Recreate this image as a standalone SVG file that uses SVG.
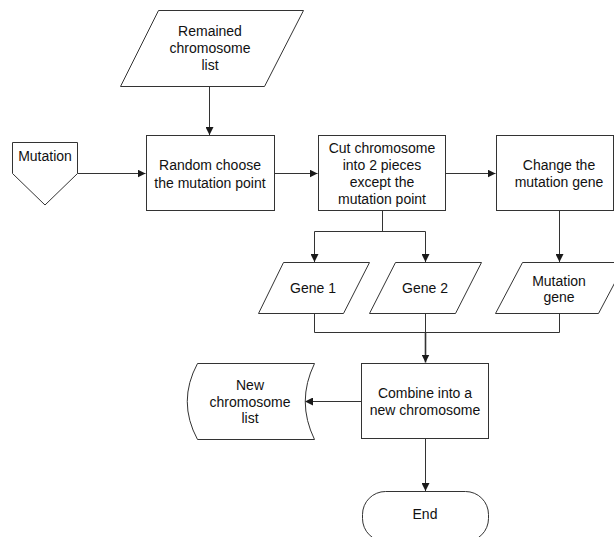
<svg xmlns="http://www.w3.org/2000/svg" width="614" height="537" viewBox="0 0 614 537">
  <defs>
    <marker id="arrow" viewBox="0 0 10 10" refX="10" refY="5" markerWidth="8" markerHeight="8" markerUnits="userSpaceOnUse" orient="auto">
      <path d="M0,0 L10,5 L0,10 Z" fill="#1a1a1a"/>
    </marker>
  </defs>
  <style>
    .shape { fill: #ffffff; stroke: #333333; stroke-width: 1; }
    .label { font-family: "Liberation Sans", Arial, sans-serif; font-size: 14px; fill: #111111; text-anchor: middle; }
    .link { fill: none; stroke: #333333; stroke-width: 1; }
    .bold { stroke-width: 1.6; }
  </style>
  <rect width="614" height="537" fill="#ffffff"/>

  <!-- connectors -->
  <g id="connectors">
    <path class="link" d="M209.5,86 L209.5,135" marker-end="url(#arrow)"/>
    <path class="link" d="M77.5,173.5 L145.5,173.5" marker-end="url(#arrow)"/>
    <path class="link" d="M274.5,173.5 L317.5,173.5" marker-end="url(#arrow)"/>
    <path class="link" d="M445.5,173.5 L495.5,173.5" marker-end="url(#arrow)"/>
    <path class="link" d="M382.5,211 L382.5,231.5"/>
    <path class="link" d="M314.5,231.5 L425.5,231.5"/>
    <path class="link" d="M314.5,231.5 L314.5,262" marker-end="url(#arrow)"/>
    <path class="link" d="M425.5,231.5 L425.5,262" marker-end="url(#arrow)"/>
    <path class="link" d="M559.5,211 L559.5,262" marker-end="url(#arrow)"/>
    <path class="link" d="M314.5,313 L314.5,332.5 L559.5,332.5 L559.5,313"/>
    <path class="link" d="M425.5,313 L425.5,332.5"/>
    <path class="link bold" d="M425.5,332.5 L425.5,362.5" marker-end="url(#arrow)"/>
    <path class="link" d="M361.5,401.5 L305,401.5" marker-end="url(#arrow)"/>
    <path class="link" d="M425.5,439 L425.5,491" marker-end="url(#arrow)"/>
  </g>

  <!-- input list -->
  <g id="remained">
    <path class="shape" d="M158.5,10.5 L303.5,10.5 L264.5,86.5 L120.5,86.5 Z"/>
    <text class="label" x="210" y="36">Remained</text>
    <text class="label" x="210" y="53">chromosome</text>
    <text class="label" x="210" y="70">list</text>
  </g>

  <!-- off-page reference -->
  <g id="mutation">
    <path class="shape" d="M12.5,142.5 L77.5,142.5 L77.5,173.5 L45,205 L12.5,173.5 Z"/>
    <text class="label" x="45" y="161">Mutation</text>
  </g>

  <g id="random">
    <rect class="shape" x="146.5" y="135.5" width="128" height="75"/>
    <text class="label" x="210" y="170">Random choose</text>
    <text class="label" x="210" y="188">the mutation point</text>
  </g>

  <g id="cut">
    <rect class="shape" x="318.5" y="135.5" width="127" height="75"/>
    <text class="label" x="382" y="153">Cut chromosome</text>
    <text class="label" x="382" y="170">into 2 pieces</text>
    <text class="label" x="382" y="187">except the</text>
    <text class="label" x="382" y="204">mutation point</text>
  </g>

  <g id="change">
    <rect class="shape" x="496.5" y="135.5" width="117" height="75"/>
    <text class="label" x="559" y="170">Change the</text>
    <text class="label" x="559" y="187">mutation gene</text>
  </g>

  <g id="gene1">
    <path class="shape" d="M283.5,262.5 L369.5,262.5 L343.5,313.5 L258.5,313.5 Z"/>
    <text class="label" x="313" y="293">Gene 1</text>
  </g>

  <g id="gene2">
    <path class="shape" d="M395.5,262.5 L481.5,262.5 L455.5,313.5 L369.5,313.5 Z"/>
    <text class="label" x="425" y="293">Gene 2</text>
  </g>

  <g id="mutation-gene">
    <path class="shape" d="M522.5,262.5 L625.5,262.5 L598.5,313.5 L495.5,313.5 Z"/>
    <text class="label" x="559" y="286">Mutation</text>
    <text class="label" x="559" y="302">gene</text>
  </g>

  <g id="combine">
    <rect class="shape" x="361.5" y="363.5" width="127" height="75"/>
    <text class="label" x="425" y="398">Combine into a</text>
    <text class="label" x="425" y="415">new chromosome</text>
  </g>

  <!-- stored data -->
  <g id="new-list">
    <path class="shape" d="M197.5,363.5 L314.5,363.5 Q296,401.5 314.5,439.5 L197.5,439.5 Q177,401.5 197.5,363.5 Z"/>
    <text class="label" x="250" y="390">New</text>
    <text class="label" x="250" y="407">chromosome</text>
    <text class="label" x="250" y="423">list</text>
  </g>

  <!-- terminator, running past the lower edge -->
  <g id="end">
    <rect class="shape" x="362.5" y="491.5" width="126" height="50" rx="23" ry="23"/>
    <text class="label" x="425" y="519">End</text>
  </g>
</svg>
